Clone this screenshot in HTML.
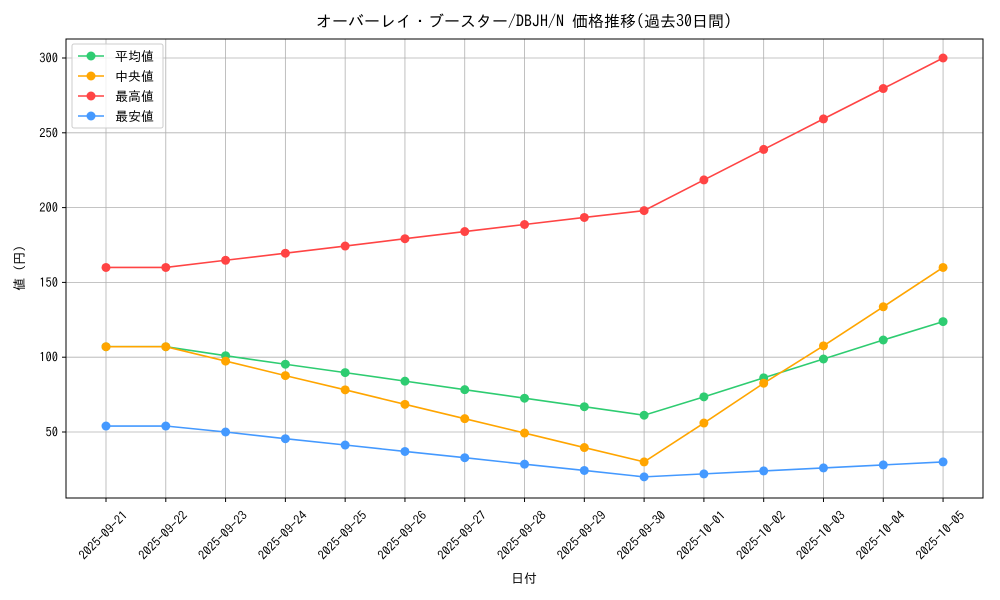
<!DOCTYPE html>
<html><head><meta charset="utf-8"><style>
html,body{margin:0;padding:0;background:#fff;}
svg{display:block;font-family:"IPAGothic","Noto Sans CJK JP","Liberation Mono",monospace;}
</style></head><body>
<svg width="1000" height="600" viewBox="0 0 1000 600" xmlns="http://www.w3.org/2000/svg">
<rect width="1000" height="600" fill="#fff"/>
<g id="grid" stroke="#b0b0b0" stroke-width="0.8"></g>
<rect x="66" y="39" width="917" height="459" fill="none" stroke="#000" stroke-width="1"/>
<g id="ticks" font-size="12.5" fill="#000"></g>
<g id="series"></g>
<text x="524" y="27" font-size="16" text-anchor="middle">オーバーレイ・ブースター/DBJH/N 価格推移(過去30日間)</text>
<text x="524" y="583" font-size="13" text-anchor="middle">日付</text>
<text transform="translate(24,268) rotate(-90)" font-size="13" text-anchor="middle">値 (円)</text>
<g>
<rect x="72" y="44" width="91" height="84" fill="#fff" fill-opacity="0.8" stroke="#ccc" rx="2"/>
<line x1="78" y1="56" x2="104" y2="56" stroke="#2ecc71" stroke-width="1.5"/><circle cx="91" cy="56" r="4.5" fill="#2ecc71"/><text x="115" y="61" font-size="13">平均値</text>
<line x1="78" y1="76" x2="104" y2="76" stroke="#ffa500" stroke-width="1.5"/><circle cx="91" cy="76" r="4.5" fill="#ffa500"/><text x="115" y="81" font-size="13">中央値</text>
<line x1="78" y1="96" x2="104" y2="96" stroke="#ff4444" stroke-width="1.5"/><circle cx="91" cy="96" r="4.5" fill="#ff4444"/><text x="115" y="101" font-size="13">最高値</text>
<line x1="78" y1="116" x2="104" y2="116" stroke="#4499ff" stroke-width="1.5"/><circle cx="91" cy="116" r="4.5" fill="#4499ff"/><text x="115" y="121" font-size="13">最安値</text>
</g>
<script>
const ns="http://www.w3.org/2000/svg";
const X=i=>106+i*59.79, Y=v=>58+(300-v)*1.496;
const g=document.getElementById('grid'),t=document.getElementById('ticks'),s=document.getElementById('series');
function el(p,tag,a,txt){const e=document.createElementNS(ns,tag);for(const k in a)e.setAttribute(k,a[k]);if(txt)e.textContent=txt;p.appendChild(e);return e;}
const dates=["2025-09-21","2025-09-22","2025-09-23","2025-09-24","2025-09-25","2025-09-26","2025-09-27","2025-09-28","2025-09-29","2025-09-30","2025-10-01","2025-10-02","2025-10-03","2025-10-04","2025-10-05"];
dates.forEach((d,i)=>{const x=X(i);el(g,'line',{x1:x,x2:x,y1:39,y2:498});el(t,'line',{x1:x,x2:x,y1:498,y2:502,stroke:'#000'});
el(t,'text',{transform:`translate(${x-2},536) rotate(-45)`,'text-anchor':'middle','dominant-baseline':'middle'},d);});
[50,100,150,200,250,300].forEach(v=>{const y=Y(v);el(g,'line',{x1:66,x2:983,y1:y,y2:y});el(t,'line',{x1:62,x2:66,y1:y,y2:y,stroke:'#000'});
el(t,'text',{x:58,y:y+4.5,'text-anchor':'end'},String(v));});
const data=[
["#2ecc71",[107,107,101,95.3,89.7,84,78.3,72.6,66.9,61.2,73.5,86.2,98.8,111.5,123.8]],
["#ffa500",[107,107,97.4,87.7,78.2,68.5,58.9,49.3,39.6,30,56,82.6,107.6,133.7,160]],
["#ff4444",[160,160,164.8,169.5,174.3,179.2,184,188.7,193.4,198,218.5,238.9,259.3,279.6,300]],
["#4499ff",[54,54,50,45.5,41.3,37,32.8,28.5,24.3,20,22,24,26,28,30]]];
data.forEach(([c,v])=>{el(s,'polyline',{points:v.map((a,i)=>X(i)+','+Y(a)).join(' '),fill:'none',stroke:c,'stroke-width':1.6});
v.forEach((a,i)=>el(s,'circle',{cx:X(i),cy:Y(a),r:4.5,fill:c}));});
</script>
</svg>
</body></html>
